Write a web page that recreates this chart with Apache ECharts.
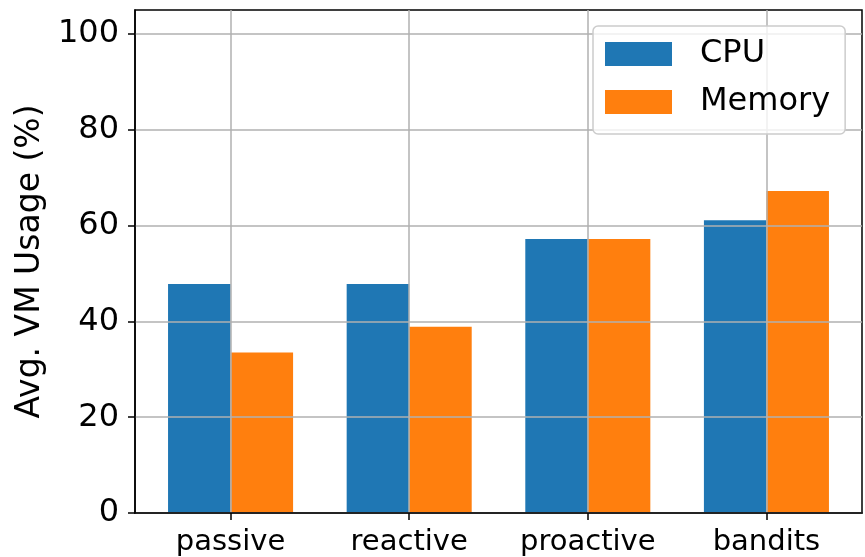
<!DOCTYPE html>
<html>
<head>
<meta charset="utf-8">
<script src="https://cdn.jsdelivr.net/npm/echarts@6/dist/echarts.min.js"></script>
<style>
  html, body { margin: 0; padding: 0; background: #fff; }
  #chart { width: 865px; height: 557px; }
</style>
</head>
<body>
<div id="chart"></div>
<script>
// Average VM usage per scaling strategy
const categories = ['passive', 'reactive', 'proactive', 'bandits'];
const cpuUsage = [47.8, 47.8, 57.2, 61.1];
const memoryUsage = [33.5, 38.9, 57.2, 67.2];
const yTicks = [0, 20, 40, 60, 80, 100];
const xTicks = [0, 1, 2, 3];

const FONT = 'DejaVu Sans';
const BAR_W = 0.35;          // bar width in category units
const CPU_COLOR = '#1f77b4';
const MEM_COLOR = '#ff7f0e';

// side = -1 draws the bar left of the category centre, +1 to the right
function barRenderer(side) {
  return function (params, api) {
    const i = api.value(0);
    const v = api.value(1);
    const x0 = side < 0 ? i - BAR_W : i;
    const p0 = api.coord([x0, v]);
    const p1 = api.coord([x0 + BAR_W, 0]);
    return {
      type: 'rect',
      shape: { x: p0[0], y: p0[1], width: p1[0] - p0[0], height: p1[1] - p0[1] },
      style: api.style()
    };
  };
}

const chart = echarts.init(document.getElementById('chart'), null, { renderer: 'canvas' });

chart.setOption({
  animation: false,
  backgroundColor: '#ffffff',
  textStyle: { fontFamily: FONT },
  grid: {
    left: 135, right: 3, top: 10, bottom: 42,
    show: true, borderColor: '#000', borderWidth: 1.5, z: 3
  },
  legend: {
    orient: 'vertical',
    left: 593, top: 26,
    padding: [12, 15, 16, 12],
    itemWidth: 67, itemHeight: 24, itemGap: 16,
    icon: 'rect',
    backgroundColor: 'rgba(255,255,255,0.8)',
    borderColor: '#cccccc', borderWidth: 1.5, borderRadius: 5,
    textStyle: { fontFamily: FONT, fontSize: 32, color: '#000', padding: [0, 0, 0, 23] },
    z: 10,
    data: ['CPU', 'Memory']
  },
  xAxis: {
    type: 'value',
    min: -0.535, max: 3.535,
    interval: 1,
    z: 3,
    axisLine: { show: true, onZero: false, lineStyle: { color: '#000', width: 1.5 } },
    axisTick: { show: true, length: 7, customValues: xTicks, lineStyle: { color: '#000', width: 1.5 } },
    axisLabel: {
      customValues: xTicks,
      formatter: v => categories[Math.round(v)] || '',
      fontFamily: FONT, fontSize: 29, color: '#000', margin: 15
    },
    splitLine: { show: true, lineStyle: { color: '#b0b0b0', width: 1.5 } }
  },
  yAxis: {
    type: 'value',
    min: 0, max: 105,
    interval: 20,
    z: 3,
    name: 'Avg. VM Usage (%)',
    nameLocation: 'middle',
    nameGap: 88,
    nameTextStyle: { fontFamily: FONT, fontSize: 33, color: '#000' },
    axisLine: { show: true, onZero: false, lineStyle: { color: '#000', width: 1.5 } },
    axisTick: { show: true, length: 7, customValues: yTicks, lineStyle: { color: '#000', width: 1.5 } },
    axisLabel: {
      customValues: yTicks,
      fontFamily: FONT, fontSize: 32, color: '#000', margin: 16
    },
    splitLine: { show: true, lineStyle: { color: '#b0b0b0', width: 1.5 } }
  },
  series: [
    {
      name: 'CPU',
      type: 'custom',
      z: 1,
      renderItem: barRenderer(-1),
      itemStyle: { color: CPU_COLOR },
      encode: { x: 0, y: 1 },
      data: cpuUsage.map((v, i) => [i, v])
    },
    {
      name: 'Memory',
      type: 'custom',
      z: 1,
      renderItem: barRenderer(1),
      itemStyle: { color: MEM_COLOR },
      encode: { x: 0, y: 1 },
      data: memoryUsage.map((v, i) => [i, v])
    }
  ]
});
</script>
</body>
</html>
